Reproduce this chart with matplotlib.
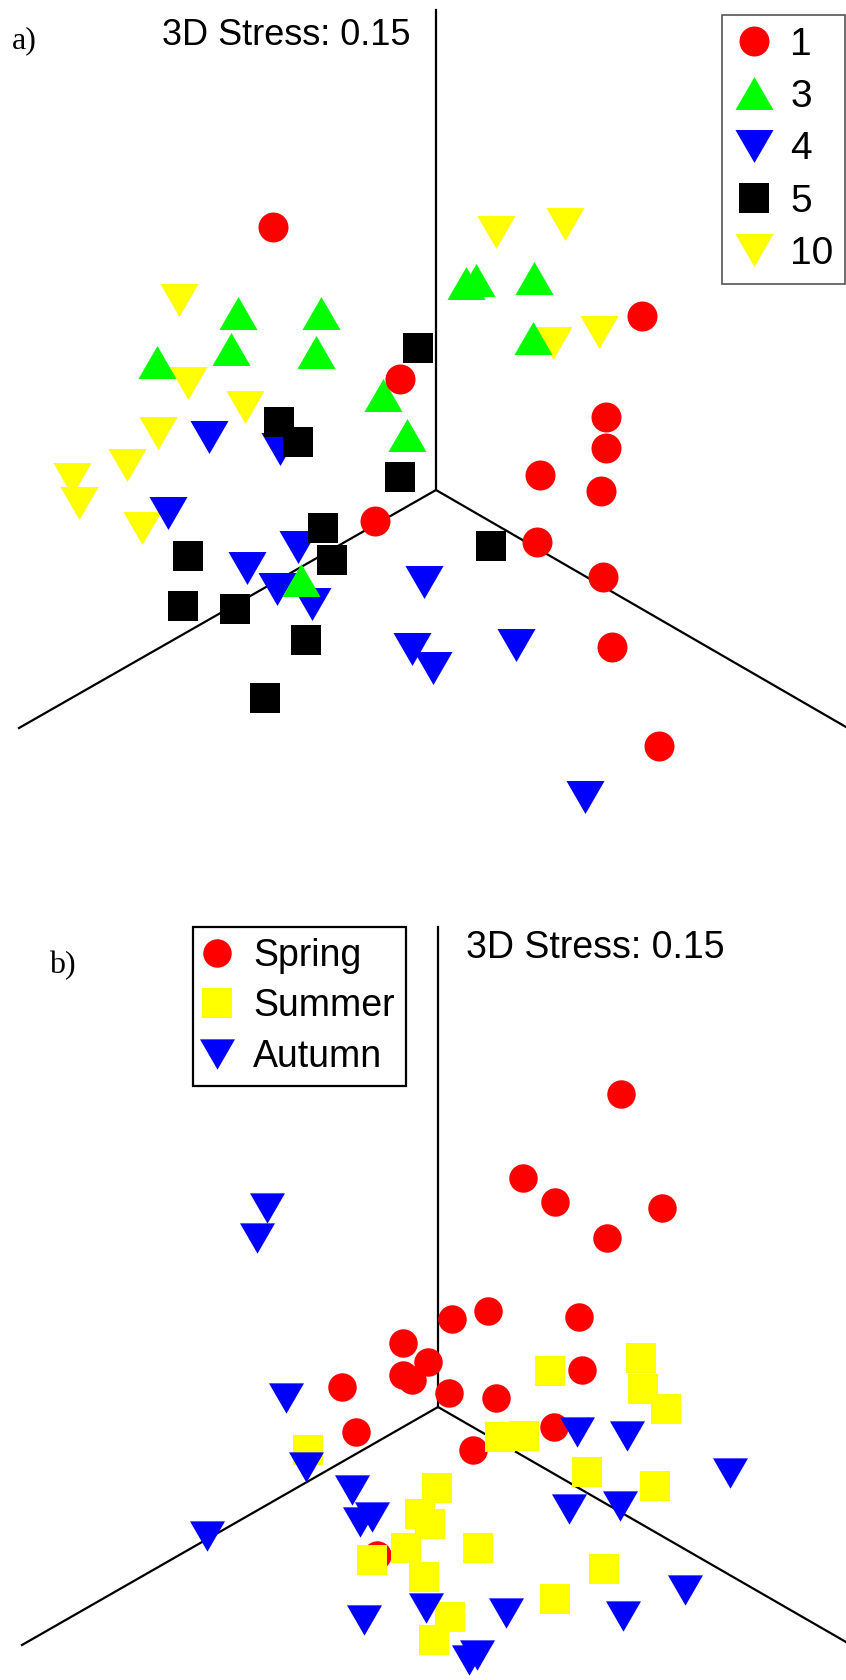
import matplotlib.pyplot as plt

plt.rcParams['font.family'] = ['Liberation Sans', 'DejaVu Sans']

# positions (pixel units, y grows downwards)
# panel a: groups 1, 3, 4, 5, 10
a1_x = [273, 400, 375, 642, 606, 606, 540, 601, 537, 603, 612, 659]
a1_y = [227, 379, 521, 316, 417, 448, 475, 491, 542, 577, 647, 746]
a3_x = [238, 321, 231, 316, 157, 383, 407, 301, 466, 476, 534, 533]
a3_y = [313, 313, 349, 352, 362, 395, 435, 580, 283, 280, 278, 338]
a4_x = [209, 280, 168, 298, 247, 277, 312, 424, 412, 433, 516, 585]
a4_y = [437, 449, 513, 547, 568, 589, 604, 582, 649, 668, 645, 797]
a5_x = [418, 279, 298, 400, 323, 188, 332, 183, 235, 306, 265, 491]
a5_y = [348, 422, 442, 477, 528, 556, 560, 606, 609, 640, 698, 546]
a10_x = [179, 188, 245, 158, 127, 72, 79, 142, 496, 565, 553, 599]
a10_y = [300, 383, 407, 433, 465, 479, 503, 528, 232, 224, 343, 332]
labels_a = ['1', '3', '4', '5', '10']

# panel b: seasons
spring_x = [621, 523, 555, 662, 607, 452, 488, 579, 403, 428, 403, 412,
            342, 449, 496, 582, 554, 356, 473, 377]
spring_y = [1094, 1178, 1202, 1208, 1238, 1319, 1311, 1317, 1343, 1362, 1375, 1380,
            1387, 1393, 1398, 1370, 1427, 1432, 1450, 1555]
summer_x = [550, 641, 643, 666, 500, 524, 587, 655, 437, 420, 430, 406,
            478, 372, 424, 604, 555, 450, 434, 308]
summer_y = [1371, 1358, 1389, 1409, 1437, 1436, 1472, 1486, 1488, 1514, 1524, 1548,
            1548, 1560, 1577, 1569, 1599, 1617, 1640, 1450]
autumn_x = [267, 257, 286, 306, 207, 352, 360, 372, 364, 426, 506, 469,
            477, 577, 627, 730, 569, 620, 685, 623]
autumn_y = [1208, 1238, 1398, 1467, 1536, 1490, 1522, 1517, 1620, 1608, 1613, 1660,
            1655, 1432, 1436, 1473, 1509, 1506, 1590, 1616]
labels_b = ['Spring', 'Summer', 'Autumn']

# 3D axes: origin, top of vertical, left end, right end
axes3d_a = [(436, 490), (436, 10), (19, 728), (846, 727)]
axes3d_b = [(438, 1407), (438, 927), (22, 1645), (846, 1642)]

tri_up = [(-1, -0.866), (1, -0.866), (0, 0.866)]
tri_down = [(-1, 0.866), (1, 0.866), (0, -0.866)]


def draw_axes3d(ax, pts):
    o = pts[0]
    for p in pts[1:]:
        ax.plot([o[0], p[0]], [o[1], p[1]], color='black', lw=1.6, zorder=1)


def pts(ax, x, y, marker, color, size, label):
    line, = ax.plot(x, y, linestyle='none', marker=marker, markersize=size,
                    markerfacecolor=color, markeredgewidth=0, label=label, zorder=2)
    return line


fig = plt.figure(figsize=(8.46, 16.8), dpi=100)

# ---- panel a
ax = fig.add_axes([0, 0.5, 1, 0.5])
ax.set_xlim(0, 846)
ax.set_ylim(840, 0)
ax.axis('off')
draw_axes3d(ax, axes3d_a)
h10 = pts(ax, a10_x, a10_y, tri_down, '#ffff00', 27.4, labels_a[4])
h4 = pts(ax, a4_x, a4_y, tri_down, '#0000ff', 27.4, labels_a[2])
h5 = pts(ax, a5_x, a5_y, 's', 'black', 22.3, labels_a[3])
h3 = pts(ax, a3_x, a3_y, tri_up, '#00ff00', 27.4, labels_a[1])
h1 = pts(ax, a1_x, a1_y, 'o', '#ff0000', 21.6, labels_a[0])
ax.text(162, 45, '3D Stress: 0.15', fontsize=26, ha='left', va='baseline')
ax.text(12, 41, 'a)', fontsize=23, family='Liberation Serif', ha='left', va='center')
leg = ax.legend(handles=[h1, h3, h4, h5, h10], loc='upper right',
                bbox_to_anchor=(845 / 846, 1 - 15 / 840), fontsize=28,
                fancybox=False, framealpha=1, edgecolor='#555555',
                borderpad=0.3, labelspacing=0.42, handlelength=1.0,
                handletextpad=0.44, borderaxespad=0)
leg.get_frame().set_linewidth(1.2)

# ---- panel b
ax = fig.add_axes([0, 0, 1, 0.5])
ax.set_xlim(0, 846)
ax.set_ylim(1680, 840)
ax.axis('off')
draw_axes3d(ax, axes3d_b)
hs = pts(ax, spring_x, spring_y, 'o', '#ff0000', 20.5, labels_b[0])
hu = pts(ax, summer_x, summer_y, 's', '#ffff00', 21.6, labels_b[1])
hw = pts(ax, autumn_x, autumn_y, tri_down, '#0000ff', 25.2, labels_b[2])
ax.text(466, 958, '3D Stress: 0.15', fontsize=27, ha='left', va='baseline')
ax.text(49, 966, 'b)', fontsize=23, family='Liberation Serif', ha='left', va='center')
leg = ax.legend(handles=[hs, hu, hw], loc='upper left',
                bbox_to_anchor=(193 / 846, 1 - (927 - 840) / 840), fontsize=27,
                fancybox=False, framealpha=1, edgecolor='black',
                borderpad=0.3, labelspacing=0.38, handlelength=0.7,
                handletextpad=0.6, borderaxespad=0)
leg.get_frame().set_linewidth(1.6)

fig.savefig('out.png', dpi=100, facecolor='white')
